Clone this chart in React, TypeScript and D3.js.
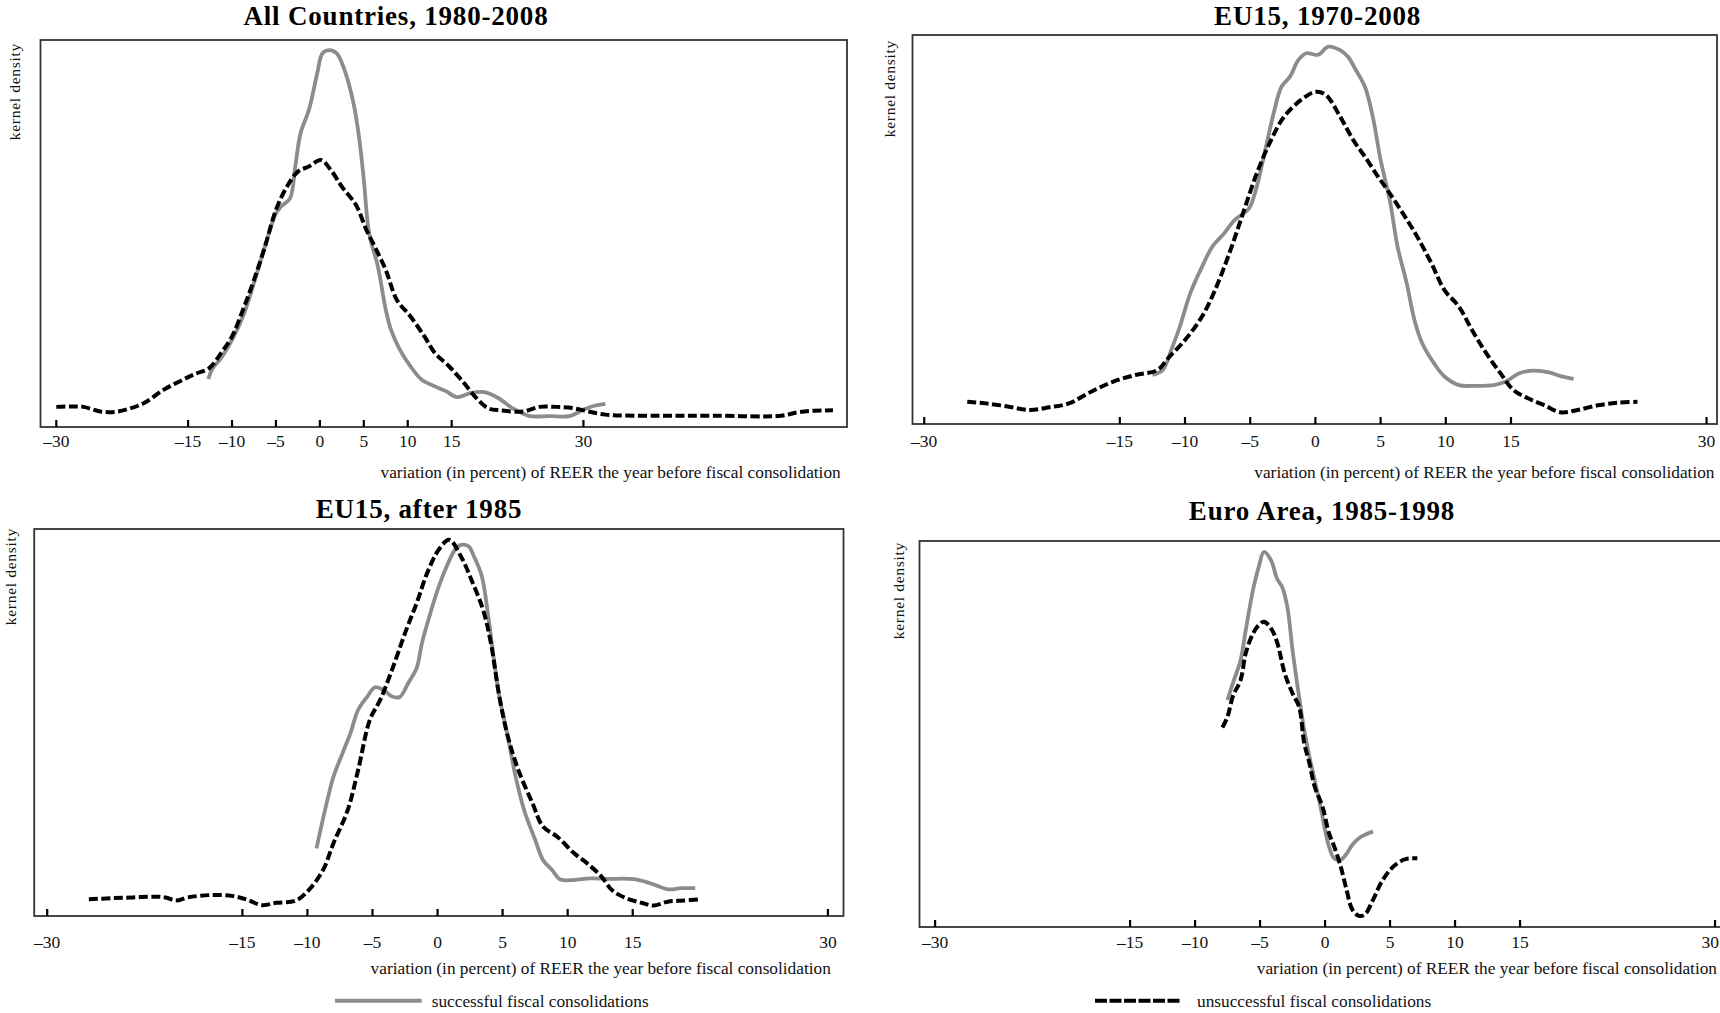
import React from "react";
import * as d3 from "d3";

// ---- data: x = variation of REER (%), y = kernel density (relative units) ----
const tickValues = [-30, -15, -10, -5, 0, 5, 10, 15, 30];

const titles = ["All Countries, 1980-2008", "EU15, 1970-2008", "EU15, after 1985", "Euro Area, 1985-1998"];
const xAxisTitle = "variation (in percent) of REER the year before fiscal consolidation";
const yAxisTitle = "kernel density";
const legendLabels = ["successful fiscal consolidations", "unsuccessful fiscal consolidations"];

const allSuccessful: [number, number][] = [
  [-12.7, 0.124], [-12.2, 0.152], [-11.25, 0.178], [-10, 0.225], [-8.75, 0.286], [-7.5, 0.372],
  [-6.25, 0.466], [-5, 0.552], [-4.4, 0.57], [-3.4, 0.591], [-2.8, 0.673], [-2.2, 0.759],
  [-1.25, 0.819], [-0.3, 0.914], [0.3, 0.966], [1.1, 0.974], [1.9, 0.966], [2.8, 0.923],
  [3.75, 0.845], [4.4, 0.759], [5, 0.639], [5.6, 0.501], [6.6, 0.415], [7.5, 0.303],
  [8.1, 0.251], [9.1, 0.2], [10.3, 0.157], [11.6, 0.122], [13.1, 0.105], [14.4, 0.092],
  [15.6, 0.077], [17.2, 0.088], [18.75, 0.09], [20.3, 0.075], [21.9, 0.049], [23.75, 0.029],
  [26.25, 0.028], [28.4, 0.028], [30, 0.045], [31.25, 0.055], [32.5, 0.06],
];
const allUnsuccessful: [number, number][] = [
  [-30, 0.052], [-28.4, 0.053], [-26.9, 0.052], [-25, 0.04], [-23.4, 0.039], [-21.9, 0.046],
  [-20, 0.062], [-17.8, 0.096], [-15.6, 0.122], [-14.1, 0.138], [-12.6, 0.152], [-11.25, 0.191],
  [-10, 0.234], [-8.75, 0.303], [-7.5, 0.38], [-6.25, 0.466], [-5, 0.561], [-3.75, 0.621],
  [-2.5, 0.66], [-1.25, 0.673], [0.1, 0.69], [1.25, 0.664], [2.5, 0.621], [4.1, 0.574],
  [5.3, 0.509], [6.25, 0.466], [7.5, 0.406], [8.75, 0.329], [10.3, 0.286], [11.9, 0.234],
  [13.1, 0.191], [14.7, 0.157], [16.25, 0.118], [17.8, 0.075], [19.1, 0.049], [20.6, 0.043],
  [23.1, 0.04], [25, 0.052], [26.9, 0.052], [28.75, 0.049], [30.6, 0.04], [32.5, 0.032],
  [38.75, 0.029], [45, 0.029], [52.5, 0.029], [54.4, 0.038], [56.25, 0.042], [58.4, 0.043],
];

const eu70Successful: [number, number][] = [
  [-12.5, 0.126], [-11.7, 0.139], [-11.06, 0.19], [-10.4, 0.25], [-9.6, 0.336], [-8.7, 0.404],
  [-7.9, 0.456], [-7.0, 0.49], [-6.2, 0.524], [-5.1, 0.554], [-4.5, 0.61], [-3.9, 0.696],
  [-3.2, 0.799], [-2.6, 0.867], [-1.95, 0.893], [-1.3, 0.936], [-0.7, 0.953], [0.2, 0.949],
  [1.0, 0.97], [1.9, 0.961], [2.5, 0.944], [3.1, 0.91], [3.8, 0.867], [4.4, 0.79],
  [5.0, 0.679], [5.7, 0.576], [6.3, 0.456], [7.0, 0.362], [7.6, 0.267], [8.2, 0.207],
  [9.1, 0.156], [9.9, 0.122], [11.0, 0.1], [12.2, 0.098], [13.7, 0.1], [14.6, 0.109],
  [15.6, 0.13], [16.7, 0.137], [18.0, 0.132], [18.8, 0.123], [19.8, 0.116],
];
const eu70Unsuccessful: [number, number][] = [
  [-26.7, 0.057], [-25.3, 0.053], [-23.6, 0.045], [-21.9, 0.036], [-20.4, 0.043], [-18.9, 0.053],
  [-17.2, 0.083], [-15.5, 0.109], [-13.8, 0.126], [-12.1, 0.139], [-11.3, 0.169], [-10.0, 0.216],
  [-8.7, 0.276], [-7.7, 0.344], [-6.6, 0.439], [-5.55, 0.542], [-4.5, 0.644], [-3.4, 0.73],
  [-2.4, 0.79], [-1.1, 0.833], [0, 0.854], [0.8, 0.846], [1.9, 0.79], [2.9, 0.73],
  [3.8, 0.687], [4.8, 0.636], [5.7, 0.593], [6.7, 0.542], [7.8, 0.482], [8.9, 0.413],
  [9.9, 0.344], [11.0, 0.302], [12.0, 0.242], [13.1, 0.182], [14.2, 0.13], [15.2, 0.087],
  [16.3, 0.066], [17.5, 0.049], [18.8, 0.03], [20.1, 0.036], [21.8, 0.049], [23.3, 0.055],
  [24.7, 0.057],
];

const eu85Successful: [number, number][] = [
  [-9.3, 0.175], [-9.0, 0.222], [-8.4, 0.309], [-8.0, 0.36], [-7.3, 0.421], [-6.7, 0.472],
  [-6.1, 0.533], [-5.4, 0.567], [-4.8, 0.591], [-4.15, 0.584], [-3.5, 0.567], [-2.9, 0.566],
  [-2.25, 0.602], [-1.6, 0.641], [-1.2, 0.705], [-0.55, 0.783], [0.1, 0.852], [0.7, 0.903],
  [1.35, 0.947], [1.8, 0.959], [2.4, 0.955], [2.8, 0.929], [3.4, 0.878], [3.9, 0.774],
  [4.3, 0.671], [4.75, 0.567], [5.4, 0.464], [6.0, 0.36], [6.65, 0.274], [7.5, 0.197],
  [8.1, 0.145], [8.8, 0.119], [9.4, 0.095], [10.5, 0.093], [11.7, 0.097], [13.0, 0.096],
  [15.1, 0.095], [16.4, 0.084], [17.7, 0.069], [18.7, 0.072], [19.8, 0.072],
];
const eu85Unsuccessful: [number, number][] = [
  [-26.8, 0.043], [-25.1, 0.046], [-23.4, 0.048], [-21.7, 0.05], [-20.9, 0.048], [-20.1, 0.04],
  [-19.2, 0.048], [-17.5, 0.054], [-15.8, 0.052], [-14.7, 0.043], [-13.5, 0.028], [-12.4, 0.034],
  [-10.9, 0.04], [-9.9, 0.067], [-8.8, 0.119], [-8.0, 0.188], [-6.9, 0.274], [-6.1, 0.378],
  [-5.2, 0.507], [-4.4, 0.559], [-3.5, 0.636], [-2.5, 0.731], [-1.6, 0.809], [-0.8, 0.886],
  [0.1, 0.947], [0.9, 0.972], [1.8, 0.929], [2.6, 0.869], [3.5, 0.791], [4.1, 0.705],
  [4.75, 0.567], [5.4, 0.464], [6.2, 0.378], [7.3, 0.291], [8.1, 0.231], [9.2, 0.205],
  [10.5, 0.162], [11.5, 0.136], [12.6, 0.102], [13.4, 0.067], [14.5, 0.046], [15.8, 0.033],
  [16.6, 0.027], [17.7, 0.037], [18.9, 0.04], [20.2, 0.043],
];

const euroSuccessful: [number, number][] = [
  [-7.5, 0.588], [-7.1, 0.631], [-6.5, 0.691], [-6.1, 0.769], [-5.55, 0.872], [-5.1, 0.933],
  [-4.7, 0.972], [-4.15, 0.95], [-3.7, 0.903], [-3.3, 0.881], [-2.9, 0.829], [-2.5, 0.717],
  [-2.0, 0.597], [-1.6, 0.51], [-1.2, 0.441], [-0.8, 0.381], [-0.35, 0.312], [0, 0.252],
  [0.3, 0.209], [0.7, 0.178], [1.2, 0.174], [1.6, 0.187], [2.1, 0.213], [2.6, 0.23],
  [3.2, 0.241], [3.7, 0.247],
];
const euroUnsuccessful: [number, number][] = [
  [-7.9, 0.517], [-7.5, 0.545], [-7.1, 0.597], [-6.5, 0.64], [-6.1, 0.709], [-5.55, 0.76],
  [-5.1, 0.782], [-4.7, 0.791], [-4.15, 0.773], [-3.7, 0.739], [-3.1, 0.657], [-2.5, 0.605],
  [-2.0, 0.571], [-1.6, 0.476], [-1.2, 0.424], [-0.8, 0.364], [-0.2, 0.312], [0.3, 0.243],
  [0.7, 0.209], [1.2, 0.157], [1.65, 0.097], [2.1, 0.045], [2.6, 0.029], [3.05, 0.032],
  [3.7, 0.071], [4.3, 0.114], [5.0, 0.148], [5.6, 0.166], [6.2, 0.176], [7.1, 0.178],
];

const xDomains: [number, number][] = [[-31.8, 60], [-30.9, 30.8], [-31, 31.2], [-31.2, 31]];
const successfulSeries = [allSuccessful, eu70Successful, eu85Successful, euroSuccessful];
const unsuccessfulSeries = [allUnsuccessful, eu70Unsuccessful, eu85Unsuccessful, euroUnsuccessful];

// ---- layout (pixels) ----
const W = 1720;
const H = 1013;
const panels = [
  { left: 40.5, right: 847, top: 40, bottom: 427, titleX: 396, titleY: 25, ylabX: 20, ylabY: 43, tickY: 446.5, xtX: 840.7, xtY: 478 },
  { left: 912.5, right: 1717, top: 35, bottom: 424, titleX: 1317.6, titleY: 25, ylabX: 895, ylabY: 40, tickY: 446.5, xtX: 1714.5, xtY: 478 },
  { left: 34.2, right: 843.5, top: 529, bottom: 916, titleX: 419, titleY: 518, ylabX: 16, ylabY: 528, tickY: 947.5, xtX: 830.8, xtY: 974 },
  { left: 919.5, right: 1728, top: 541, bottom: 927, titleX: 1322, titleY: 520, ylabX: 904, ylabY: 542, tickY: 947.5, xtX: 1717, xtY: 974 },
];

const GRAY = "#8c8c8c";
const SERIF = "'Liberation Serif', 'Times New Roman', serif";
const DASH = "9 3.5";
const TICK_FS = 17.5;

function fmt(v: number) {
  return v < 0 ? "\u2013" + Math.abs(v) : String(v);
}

function Panel({ i }: { i: number }) {
  const p = panels[i];
  const x = d3.scaleLinear().domain(xDomains[i]).range([p.left, p.right]);
  const y = d3.scaleLinear().domain([0, 1]).range([p.bottom, p.top]);
  const line = d3
    .line<[number, number]>()
    .x((d) => x(d[0]))
    .y((d) => y(d[1]))
    .curve(d3.curveCatmullRom.alpha(0.5));
  return (
    <g>
      <text
        x={p.titleX}
        y={p.titleY}
        textAnchor="middle"
        fontFamily={SERIF}
        fontWeight="bold"
        fontSize={27}
        letterSpacing={0.8}
        fill="#000"
      >
        {titles[i]}
      </text>
      <text
        transform={`translate(${p.ylabX},${p.ylabY}) rotate(-90)`}
        textAnchor="end"
        fontFamily={SERIF}
        fontSize={15.5}
        letterSpacing={0.7}
        fill="#111"
      >
        {yAxisTitle}
      </text>
      <rect x={p.left} y={p.top} width={p.right - p.left} height={p.bottom - p.top} fill="none" stroke="#333" strokeWidth={1.8} />
      {tickValues.map((t) => {
        const tx = x(t);
        // keep a label that would run past the page edge inside it
        const nearEdge = tx + 10 > W;
        return (
          <g key={t}>
            <line x1={tx} x2={tx} y1={p.bottom} y2={p.bottom - 7} stroke="#000" strokeWidth={2.2} />
            <text
              x={nearEdge ? W - 1 : tx}
              y={p.tickY}
              textAnchor={nearEdge ? "end" : "middle"}
              fontFamily={SERIF}
              fontSize={TICK_FS}
              fill="#111"
            >
              {fmt(t)}
            </text>
          </g>
        );
      })}
      <text x={p.xtX} y={p.xtY} textAnchor="end" fontFamily={SERIF} fontSize={17.3} fill="#111">
        {xAxisTitle}
      </text>
      <path d={line(successfulSeries[i]) || ""} fill="none" stroke={GRAY} strokeWidth={3.8} strokeLinejoin="round" />
      <path d={line(unsuccessfulSeries[i]) || ""} fill="none" stroke="#000" strokeWidth={4} strokeDasharray={DASH} />
    </g>
  );
}

export default function App() {
  return (
    <svg
      width={W}
      height={H}
      viewBox={`0 0 ${W} ${H}`}
      style={{ position: "absolute", left: 0, top: 0, display: "block", background: "#fff" }}
    >
      <rect x={0} y={0} width={W} height={H} fill="#fff" />
      {[0, 1, 2, 3].map((i) => (
        <Panel key={i} i={i} />
      ))}
      <line x1={335} x2={421.7} y1={1000.7} y2={1000.7} stroke={GRAY} strokeWidth={4} />
      <text x={431.7} y={1006.5} fontFamily={SERIF} fontSize={17.3} fill="#111">
        {legendLabels[0]}
      </text>
      <line x1={1095} x2={1182} y1={1000.7} y2={1000.7} stroke="#000" strokeWidth={4} strokeDasharray="12 2.5" />
      <text x={1197} y={1006.5} fontFamily={SERIF} fontSize={17.3} fill="#111">
        {legendLabels[1]}
      </text>
    </svg>
  );
}
